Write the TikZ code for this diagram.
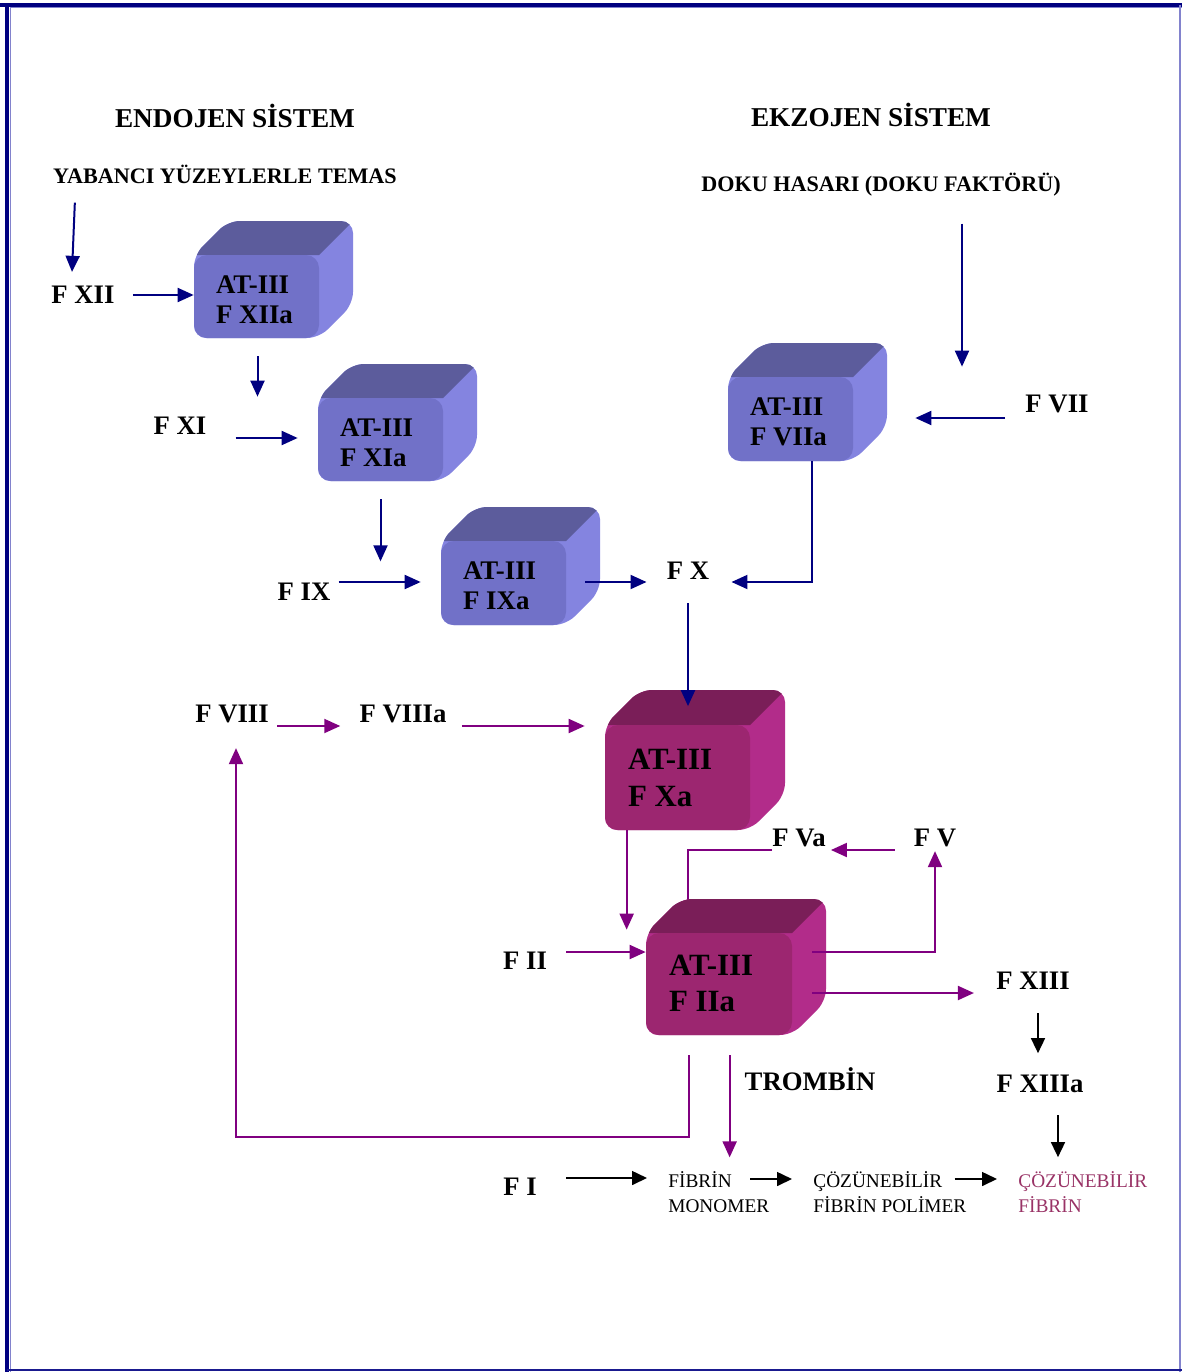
\documentclass[tikz,border=0pt]{standalone}
\usepackage{fontspec}
\setmainfont{Liberation Serif}
\usetikzlibrary{arrows.meta,calc,fit}

\definecolor{navyc}{RGB}{0,0,128}
\definecolor{purc}{RGB}{128,0,128}
\definecolor{pinkc}{RGB}{153,51,102}
\definecolor{framelight}{RGB}{130,130,205}
\definecolor{bltop}{RGB}{92,92,156}
\definecolor{blside}{RGB}{132,132,224}
\definecolor{blfront}{RGB}{113,113,200}
\definecolor{putop}{RGB}{122,30,88}
\definecolor{puside}{RGB}{178,44,138}
\definecolor{pufront}{RGB}{156,38,112}

% 3-D box: #1 name, #2 x0, #3 y0, #4 x1, #5 y1 (front face), #6 depth,
% #7 top colour, #8 side colour, #9 front colour
\newcommand\cubebox[9]{%
  \begin{scope}
    \path[clip,rounded corners=0.24cm] (#2,#5) -- (#2,#3) -- (#2+#6,#3-#6) -- (#4+#6,#3-#6) -- (#4+#6,#5-#6) -- (#4,#5) -- cycle;
    \fill[#8] (#2-20,#5+20) rectangle (#4+#6+20,#3-#6-20);
    \fill[#7] (#2-20,#3) -- (#4,#3) -- (#4+#6+40,#3-#6-40) -- (#2-20,#3-#6-40) -- cycle;
  \end{scope}
  \fill[#9,rounded corners=0.26cm] (#2,#3) rectangle (#4,#5);
  \node[fit={(#2,#3) (#4,#5)},inner sep=0pt] (#1) {};
}

\newcommand\lblfont{\fontsize{15.2pt}{18pt}\selectfont\bfseries}
\newcommand\ttlfont{\fontsize{15.5pt}{18pt}\selectfont\bfseries}
\newcommand\subfont{\fontsize{12.6pt}{15pt}\selectfont\bfseries}
\newcommand\smcubefont{\fontsize{15.3pt}{18pt}\selectfont\bfseries}
\newcommand\bgcubefont{\fontsize{17.6pt}{20pt}\selectfont\bfseries}
\newcommand\prodfont{\fontsize{11pt}{14pt}\selectfont}

% text boxes are sized to the capital height so that centres sit on the caps
\tikzset{
  lbl/.style={inner sep=0pt, text height=10pt, text depth=0pt, font=\lblfont},
  ttl/.style={lbl, text height=10.2pt, font=\ttlfont},
  sub/.style={lbl, text height=8.3pt, font=\subfont},
  smtxt/.style={lbl, text height=10.1pt, font=\smcubefont, anchor=west},
  bgtxt/.style={lbl, text height=11.6pt, font=\bgcubefont, anchor=west},
  prod/.style={lbl, text height=7.3pt, font=\prodfont, anchor=west},
  navyarr/.style={draw=navyc, line width=0.04cm, -{Triangle[length=0.32cm,width=0.28cm]}},
  purarr/.style={draw=purc, line width=0.04cm, -{Triangle[length=0.32cm,width=0.28cm]}},
  purline/.style={draw=purc, line width=0.04cm},
  blkarr/.style={draw=black, line width=0.032cm, -{Triangle[length=0.3cm,width=0.28cm]}},
}

\begin{document}
\begin{tikzpicture}[x=0.02cm,y=-0.02cm]
\useasboundingbox (0,0) rectangle (1182,1372);
\fill[white] (0,0) rectangle (1182,1372);

% frame
\draw[framelight, line width=0.02cm] (10,8) -- (1182,8);
\draw[framelight, line width=0.02cm] (10,8) -- (10,1372);
\draw[navyc, line width=0.08cm] (0,5.5) -- (1182,5.5);
\draw[navyc, line width=0.08cm] (7,3.5) -- (7,1372);
\draw[framelight, line width=0.04cm] (1180,5) -- (1180,1372);
\draw[navyc!80!framelight, line width=0.04cm] (7,1370) -- (1182,1370);

% headings
\node[ttl] (endo) at (235,119) {ENDOJEN SİSTEM};
\node[ttl] (ekzo) at (871,118) {EKZOJEN SİSTEM};
\node[sub] (yab) at (225,176) {YABANCI YÜZEYLERLE TEMAS};
\node[sub] (doku) at (881,184) {DOKU HASARI (DOKU FAKTÖRÜ)};

% factor labels
\node[lbl] (fxii) at (83,295) {F XII};
\node[lbl] (fxi) at (180,426) {F XI};
\node[lbl] (fix) at (304,592) {F IX};
\node[lbl] (fx) at (688,571) {F X};
\node[lbl] (fvii) at (1057,404) {F VII};
\node[lbl] (fviii) at (232,714) {F VIII};
\node[lbl] (fviiia) at (403,714) {F VIIIa};
\node[lbl] (fva) at (799,838) {F Va};
\node[lbl] (fv) at (935,838) {F V};
\node[lbl] (fii) at (525,961) {F II};
\node[lbl] (fxiii) at (1033,981) {F XIII};
\node[lbl] (fxiiia) at (1040,1084) {F XIIIa};
\node[lbl] (tromb) at (810,1082) {TROMBİN};
\node[lbl] (fi) at (520,1187) {F I};

% fibrin products
\node[prod] (mono1) at (668,1181) {FİBRİN};
\node[prod] (mono2) at (668,1206) {MONOMER};
\node[prod] (poli1) at (813,1181) {ÇÖZÜNEBİLİR};
\node[prod] (poli2) at (813,1206) {FİBRİN POLİMER};
\node[prod,text=pinkc] (fib1) at (1018,1181) {ÇÖZÜNEBİLİR};
\node[prod,text=pinkc] (fib2) at (1018,1206) {FİBRİN};

% F Va feeds into the thrombin box (passes under it)
\draw[purline] (fva.west) ++(0,12) -| (688,905);

% inhibitor boxes
\cubebox{cxii}{194}{255}{319}{338}{34}{bltop}{blside}{blfront}
\node[smtxt] (cxii-a) at ($(cxii.north west)+(22,30)$) {AT-III};
\node[smtxt] (cxii-b) at ($(cxii.north west)+(22,60)$) {F XIIa};

\cubebox{cxi}{318}{398}{443}{481}{34}{bltop}{blside}{blfront}
\node[smtxt] (cxi-a) at ($(cxi.north west)+(22,30)$) {AT-III};
\node[smtxt] (cxi-b) at ($(cxi.north west)+(22,60)$) {F XIa};

\cubebox{cix}{441}{541}{566}{625}{34}{bltop}{blside}{blfront}
\node[smtxt] (cix-a) at ($(cix.north west)+(22,30)$) {AT-III};
\node[smtxt] (cix-b) at ($(cix.north west)+(22,60)$) {F IXa};

\cubebox{cvii}{728}{377}{853}{461}{34}{bltop}{blside}{blfront}
\node[smtxt] (cvii-a) at ($(cvii.north west)+(22,30)$) {AT-III};
\node[smtxt] (cvii-b) at ($(cvii.north west)+(22,60)$) {F VIIa};

\cubebox{cxa}{605}{725}{750}{830}{35}{putop}{puside}{pufront}
\node[bgtxt] (cxa-a) at ($(cxa.north west)+(23,35)$) {AT-III};
\node[bgtxt] (cxa-b) at ($(cxa.north west)+(23,72)$) {F Xa};

\cubebox{cii}{646}{933}{792}{1035}{34}{putop}{puside}{pufront}
\node[bgtxt] (cii-a) at ($(cii.north west)+(23,33)$) {AT-III};
\node[bgtxt] (cii-b) at ($(cii.north west)+(23,69)$) {F IIa};

% intrinsic pathway
\draw[navyarr] ($(yab.south west)+(22,19)$) -- ($(fxii.north)+(-11,-14)$);
\draw[navyarr] ($(fxii.east)+(18,0)$) -- (fxii.east -| cxii.west);
\draw[navyarr] ($(cxii.south)+(1,18)$) -- ($(cxii.south |- cxi.north)+(1,-1)$);
\draw[navyarr] ($(fxi.east)+(29,12)$) -- ($(fxi.east -| cxi.west)+(-20,12)$);
\draw[navyarr] ($(cxi.south)+(0,18)$) -- ($(cxi.south)+(0,80)$);
\draw[navyarr] ($(fix.east)+(8,-10)$) -- ($(fix.east -| cix.west)+(-20,-10)$);
\draw[navyarr] ($(cix.east)+(19,-1)$) -- ($(fx.west |- cix.east)+(-20,-1)$);

% extrinsic pathway
\draw[navyarr] ($(doku.south)+(81,32)$) -- ($(doku.south)+(81,175)$);
\draw[navyarr] ($(fvii.west)+(-20,14)$) -- ($(fvii.west -| cvii.east)+(62,14)$);
\draw[navyarr] ($(cvii.south)+(21.5,0)$) |- ($(fx.east)+(22,11)$);
\draw[navyarr] ($(fx.south)+(0,23)$) -- ($(fx.south)+(0,126)$);

% common pathway
\draw[purarr] ($(fviii.east)+(8,12)$) -- ($(fviiia.west)+(-19,12)$);
\draw[purarr] ($(fviiia.east)+(15,12)$) -- ($(fviiia.east -| cxa.west)+(-20,12)$);
\draw[purarr] ($(cxa.south west)+(22,0)$) -- ($(cxa.south west |- cii.north)+(22,-3)$);
\draw[purarr] ($(fii.east)+(19,-9)$) -- ($(fii.east -| cii.west)+(0,-9)$);
\draw[purarr] ($(fv.west)+(-19,12)$) -- ($(fva.east)+(5,12)$);
\draw[purarr] ($(cii.east)+(20,-32)$) -| ($(fv.south)+(0,4)$);
\draw[purarr] ($(cii.east)+(20,9)$) -- ($(cii.east -| fxiii.west)+(-22,9)$);
\draw[purarr] ($(cii.south west)+(43,20)$) -- ($(cii.south west)+(43,102)$) -| ($(fviii.south)+(4,25)$);
\draw[purarr] ($(cii.south west)+(84,20)$) -- ($(cii.south west)+(84,122)$);

% fibrin formation
\draw[blkarr] ($(fxiii.south)+(5,23)$) -- ($(fxiii.south)+(5,63)$);
\draw[blkarr] ($(fxiiia.south)+(18,22)$) -- ($(fxiiia.south)+(18,64)$);
\draw[blkarr] ($(fi.east)+(29,-9)$) -- ($(fi.east -| mono1.west)+(-21,-9)$);
\draw[blkarr] ($(mono1.east)+(18,-2)$) -- ($(mono1.east -| poli1.west)+(-21,-2)$);
\draw[blkarr] ($(poli1.east)+(12,-2)$) -- ($(poli1.east -| fib1.west)+(-21,-2)$);
\end{tikzpicture}
\end{document}
